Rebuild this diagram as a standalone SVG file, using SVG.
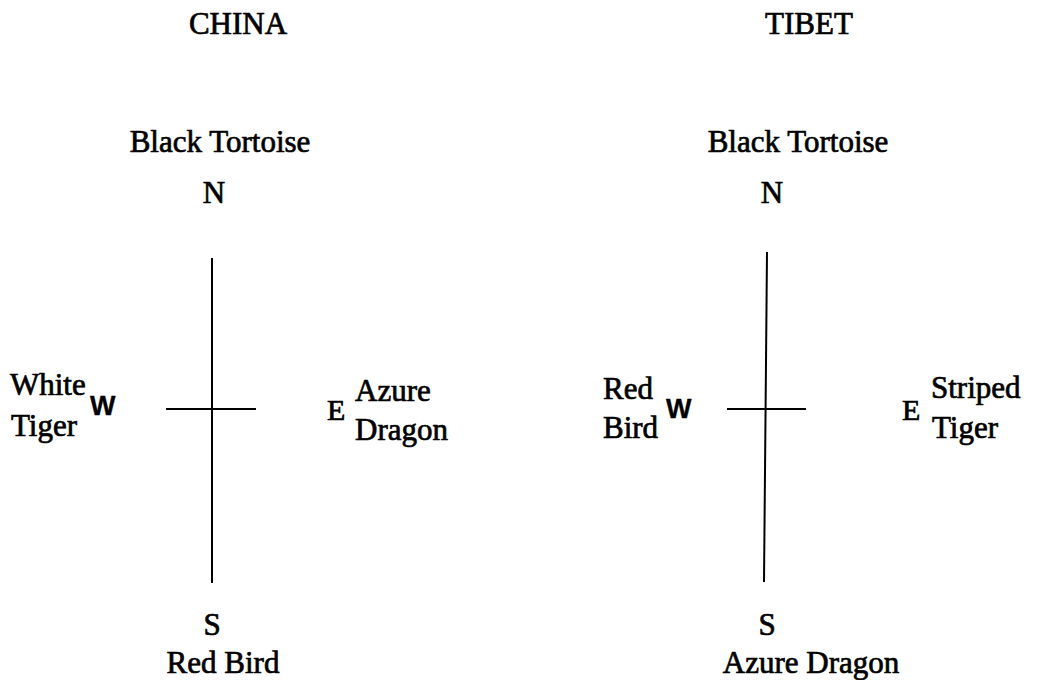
<svg xmlns="http://www.w3.org/2000/svg" width="1037" height="680" viewBox="0 0 1037 680">
  <style>
    text { font-family: "Liberation Serif", "Times New Roman", serif; fill: #000; stroke: #000; stroke-width: 0.7; }
    .title { font-size: 31px; }
    .lbl { font-size: 31px; }
    .dir { font-size: 31px; }
    .dirE { font-size: 30px; }
    .dirW { font-family: "Liberation Sans", Arial, sans-serif; font-size: 27px; font-weight: bold; stroke-width: 0.3; }
    .axis { stroke: #000; stroke-width: 2; fill: none; }
  </style>
  <rect width="1037" height="680" fill="#fff"/>

  <!-- China compass -->
  <g id="china">
    <text class="title" x="238" y="34" text-anchor="middle">CHINA</text>
    <text class="lbl" x="220" y="152" text-anchor="middle">Black Tortoise</text>
    <text class="dir" x="214" y="203" text-anchor="middle">N</text>
    <text class="lbl" x="10" y="395">White</text>
    <text class="lbl" x="11" y="436">Tiger</text>
    <text class="dirW" x="90" y="415">W</text>
    <text class="dirE" x="327" y="420">E</text>
    <text class="lbl" x="355" y="401">Azure</text>
    <text class="lbl" x="355" y="440">Dragon</text>
    <text class="dir" x="212" y="635" text-anchor="middle">S</text>
    <text class="lbl" x="223" y="673" text-anchor="middle">Red Bird</text>
  </g>

  <!-- Tibet compass -->
  <g id="tibet">
    <text class="title" x="809" y="34" text-anchor="middle">TIBET</text>
    <text class="lbl" x="798" y="152" text-anchor="middle">Black Tortoise</text>
    <text class="dir" x="772" y="203" text-anchor="middle">N</text>
    <text class="lbl" x="603" y="399">Red</text>
    <text class="lbl" x="603" y="438">Bird</text>
    <text class="dirW" x="666" y="418">W</text>
    <text class="dirE" x="902" y="420">E</text>
    <text class="lbl" x="931" y="398">Striped</text>
    <text class="lbl" x="932" y="438">Tiger</text>
    <text class="dir" x="767" y="635" text-anchor="middle">S</text>
    <text class="lbl" x="811" y="673" text-anchor="middle">Azure Dragon</text>
  </g>

  <!-- compass axes -->
  <g id="axes">
    <line class="axis" x1="212" y1="258" x2="212" y2="583"/>
    <line class="axis" x1="166" y1="409" x2="256" y2="409"/>
    <line class="axis" x1="767" y1="252" x2="764" y2="582"/>
    <line class="axis" x1="727" y1="409" x2="806" y2="409"/>
  </g>
</svg>
